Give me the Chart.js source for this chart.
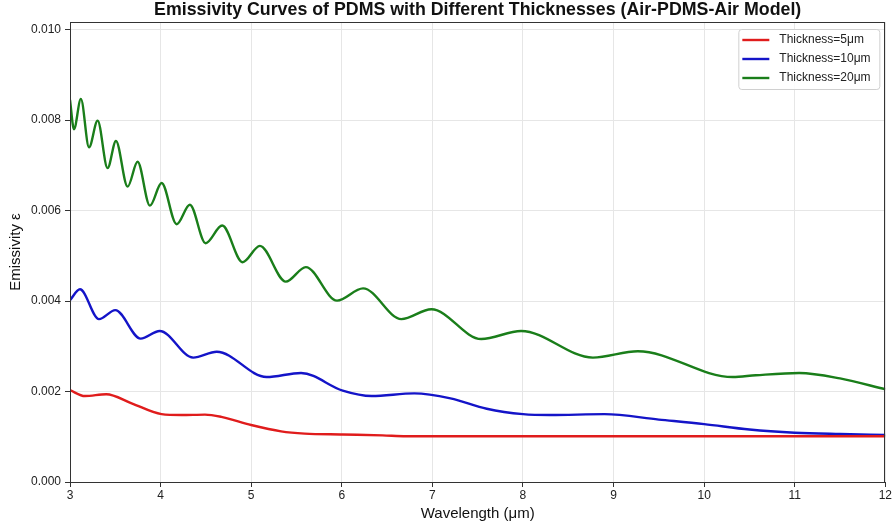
<!DOCTYPE html>
<html>
<head>
<meta charset="utf-8">
<script src="https://cdn.jsdelivr.net/npm/chart.js@4/dist/chart.umd.min.js"></script>
<style>
    html, body { margin: 0; padding: 0; background: #fff; }
    #wrap { width: 893px; height: 529px; }
</style>
</head>
<body>
<div id="wrap"><canvas id="emChart" width="893" height="529"></canvas></div>
<script>
// valores (emisividad)
const wl5 = [3.00, 3.165, 3.40, 3.68, 4.01, 4.23, 4.49, 4.67, 5.00, 5.33, 5.59, 6.01, 6.45, 6.71, 7.5, 9.0, 10.5, 12.0];
const eps5 = [0.00203, 0.00190, 0.00194, 0.00174, 0.00150, 0.00148, 0.00149, 0.00144, 0.00126, 0.00112, 0.00107, 0.00105, 0.00103, 0.00101, 0.00101, 0.00101, 0.00101, 0.00101];

const wl10 = [3.00, 3.11, 3.32, 3.50, 3.78, 3.99, 4.36, 4.62, 5.17, 5.55, 6.01, 6.33, 6.80, 7.20, 7.60, 8.00, 8.30, 8.90, 9.50, 10.00, 10.50, 11.00, 11.50, 12.0];
const eps10 = [0.00402, 0.00426, 0.00360, 0.00380, 0.00317, 0.00334, 0.00275, 0.00288, 0.00232, 0.00241, 0.00202, 0.00190, 0.00196, 0.00185, 0.00162, 0.00150, 0.00148, 0.00150, 0.00138, 0.00128, 0.00116, 0.00109, 0.00106, 0.00104];

const wl20 = [3.00, 3.044, 3.12, 3.21, 3.305, 3.415, 3.507, 3.636, 3.746, 3.882, 4.011, 4.177, 4.323, 4.497, 4.68, 4.905, 5.096, 5.382, 5.603, 5.948, 6.235, 6.658, 6.989, 7.54, 7.98, 8.772, 9.268, 10.316, 10.57, 11.05, 11.5, 12.0];
const eps20 = [0.00845, 0.00780, 0.00847, 0.00740, 0.00799, 0.00694, 0.00754, 0.00653, 0.00708, 0.00611, 0.00661, 0.00570, 0.00613, 0.00528, 0.00567, 0.00486, 0.00522, 0.00443, 0.00475, 0.00401, 0.00428, 0.00360, 0.00382, 0.00316, 0.00334, 0.00275, 0.00289, 0.00232, 0.00236, 0.00241, 0.00229, 0.00205];

const seriesNames = ['Thickness=5μm', 'Thickness=10μm', 'Thickness=20μm'];
const seriesColors = ['#e01c1c', '#1414c8', '#1a7e1a'];
const xTicks = [3, 4, 5, 6, 7, 8, 9, 10, 11, 12];
const yTicks = [0.000, 0.002, 0.004, 0.006, 0.008, 0.010];
const chartTitle = 'Emissivity Curves of PDMS with Different Thicknesses (Air-PDMS-Air Model)';

const FONT = "'Liberation Sans', Arial, sans-serif";

function toPoints(xs, ys) {
    return xs.map((x, i) => ({ x: x, y: ys[i] }));
}

// marco completo + titulo centrado sobre el area de trazado (como matplotlib)
const framePlugin = {
    id: 'frame',
    afterDatasetsDraw(chart) {
        const { ctx, chartArea: a } = chart;
        ctx.save();
        ctx.strokeStyle = '#333';
        ctx.lineWidth = 1;
        ctx.strokeRect(Math.round(a.left) + 0.5, Math.round(a.top) + 0.5, Math.round(a.right - a.left) - 1, Math.round(a.bottom - a.top));
        ctx.fillStyle = '#111';
        ctx.font = 'bold 17.8px ' + FONT;
        ctx.textAlign = 'center';
        ctx.textBaseline = 'middle';
        ctx.fillText(chartTitle, (a.left + a.right) / 2, 10);
        ctx.restore();
    }
};

// leyenda dentro del grafico, arriba a la derecha
const boxLegend = {
    id: 'boxLegend',
    afterDraw(chart) {
        const { ctx, chartArea: a } = chart;
        const w = 141, h = 60;
        const x0 = a.right - 147, y0 = a.top + 7;
        ctx.save();
        ctx.fillStyle = 'rgba(255,255,255,0.85)';
        ctx.strokeStyle = '#d0d0d0';
        ctx.lineWidth = 1;
        ctx.beginPath();
        ctx.roundRect(x0 + 0.5, y0 + 0.5, w, h, 3);
        ctx.fill();
        ctx.stroke();
        ctx.font = '12px ' + FONT;
        ctx.textBaseline = 'middle';
        chart.data.datasets.forEach((ds, i) => {
            const yy = y0 + 11 + i * 19;
            ctx.strokeStyle = ds.borderColor;
            ctx.lineWidth = 2.4;
            ctx.beginPath();
            ctx.moveTo(x0 + 4, yy);
            ctx.lineTo(x0 + 31, yy);
            ctx.stroke();
            ctx.fillStyle = '#222';
            ctx.fillText(ds.label, x0 + 41, yy);
        });
        ctx.restore();
    }
};

const datasets = [
    { label: seriesNames[0], data: toPoints(wl5, eps5) },
    { label: seriesNames[1], data: toPoints(wl10, eps10) },
    { label: seriesNames[2], data: toPoints(wl20, eps20) }
].map((d, i) => Object.assign(d, {
    borderColor: seriesColors[i],
    backgroundColor: seriesColors[i],
    borderWidth: 2.4,
    pointRadius: 0,
    fill: false,
    showLine: true,
    cubicInterpolationMode: 'monotone'
}));

new Chart(document.getElementById('emChart'), {
    type: 'line',
    data: { datasets: datasets },
    options: {
        responsive: false,
        animation: false,
        layout: { padding: { left: 0, right: 7, top: 22, bottom: 0 } },
        plugins: {
            legend: { display: false },
            tooltip: { enabled: false },
            title: { display: false }
        },
        scales: {
            x: {
                type: 'linear',
                min: 3,
                max: 12,
                afterFit: (s) => { s.height = 47; },
                afterBuildTicks: (s) => { s.ticks = xTicks.map(v => ({ value: v })); },
                ticks: {
                    color: '#222',
                    font: { family: FONT, size: 12 },
                    padding: 1,
                    maxRotation: 0,
                    callback: (v) => String(v)
                },
                grid: { color: '#e6e6e6', tickColor: '#333', tickLength: 5 },
                border: { color: '#333', width: 1 },
                title: {
                    display: true,
                    text: 'Wavelength (μm)',
                    color: '#111',
                    font: { family: FONT, size: 15 },
                    padding: { top: 0, bottom: 6 }
                }
            },
            y: {
                type: 'linear',
                min: 0,
                max: 0.01017,
                afterFit: (s) => { s.width = 70; },
                afterBuildTicks: (s) => { s.ticks = yTicks.map(v => ({ value: v })); },
                ticks: {
                    color: '#222',
                    font: { family: FONT, size: 12 },
                    padding: 4,
                    callback: (v) => Number(v).toFixed(3)
                },
                grid: { color: '#e6e6e6', tickColor: '#333', tickLength: 5 },
                border: { color: '#333', width: 1 },
                title: {
                    display: true,
                    text: 'Emissivity ε',
                    color: '#111',
                    font: { family: FONT, size: 15 },
                    padding: { top: 7, bottom: 0 }
                }
            }
        }
    },
    plugins: [framePlugin, boxLegend]
});
</script>
</body>
</html>
